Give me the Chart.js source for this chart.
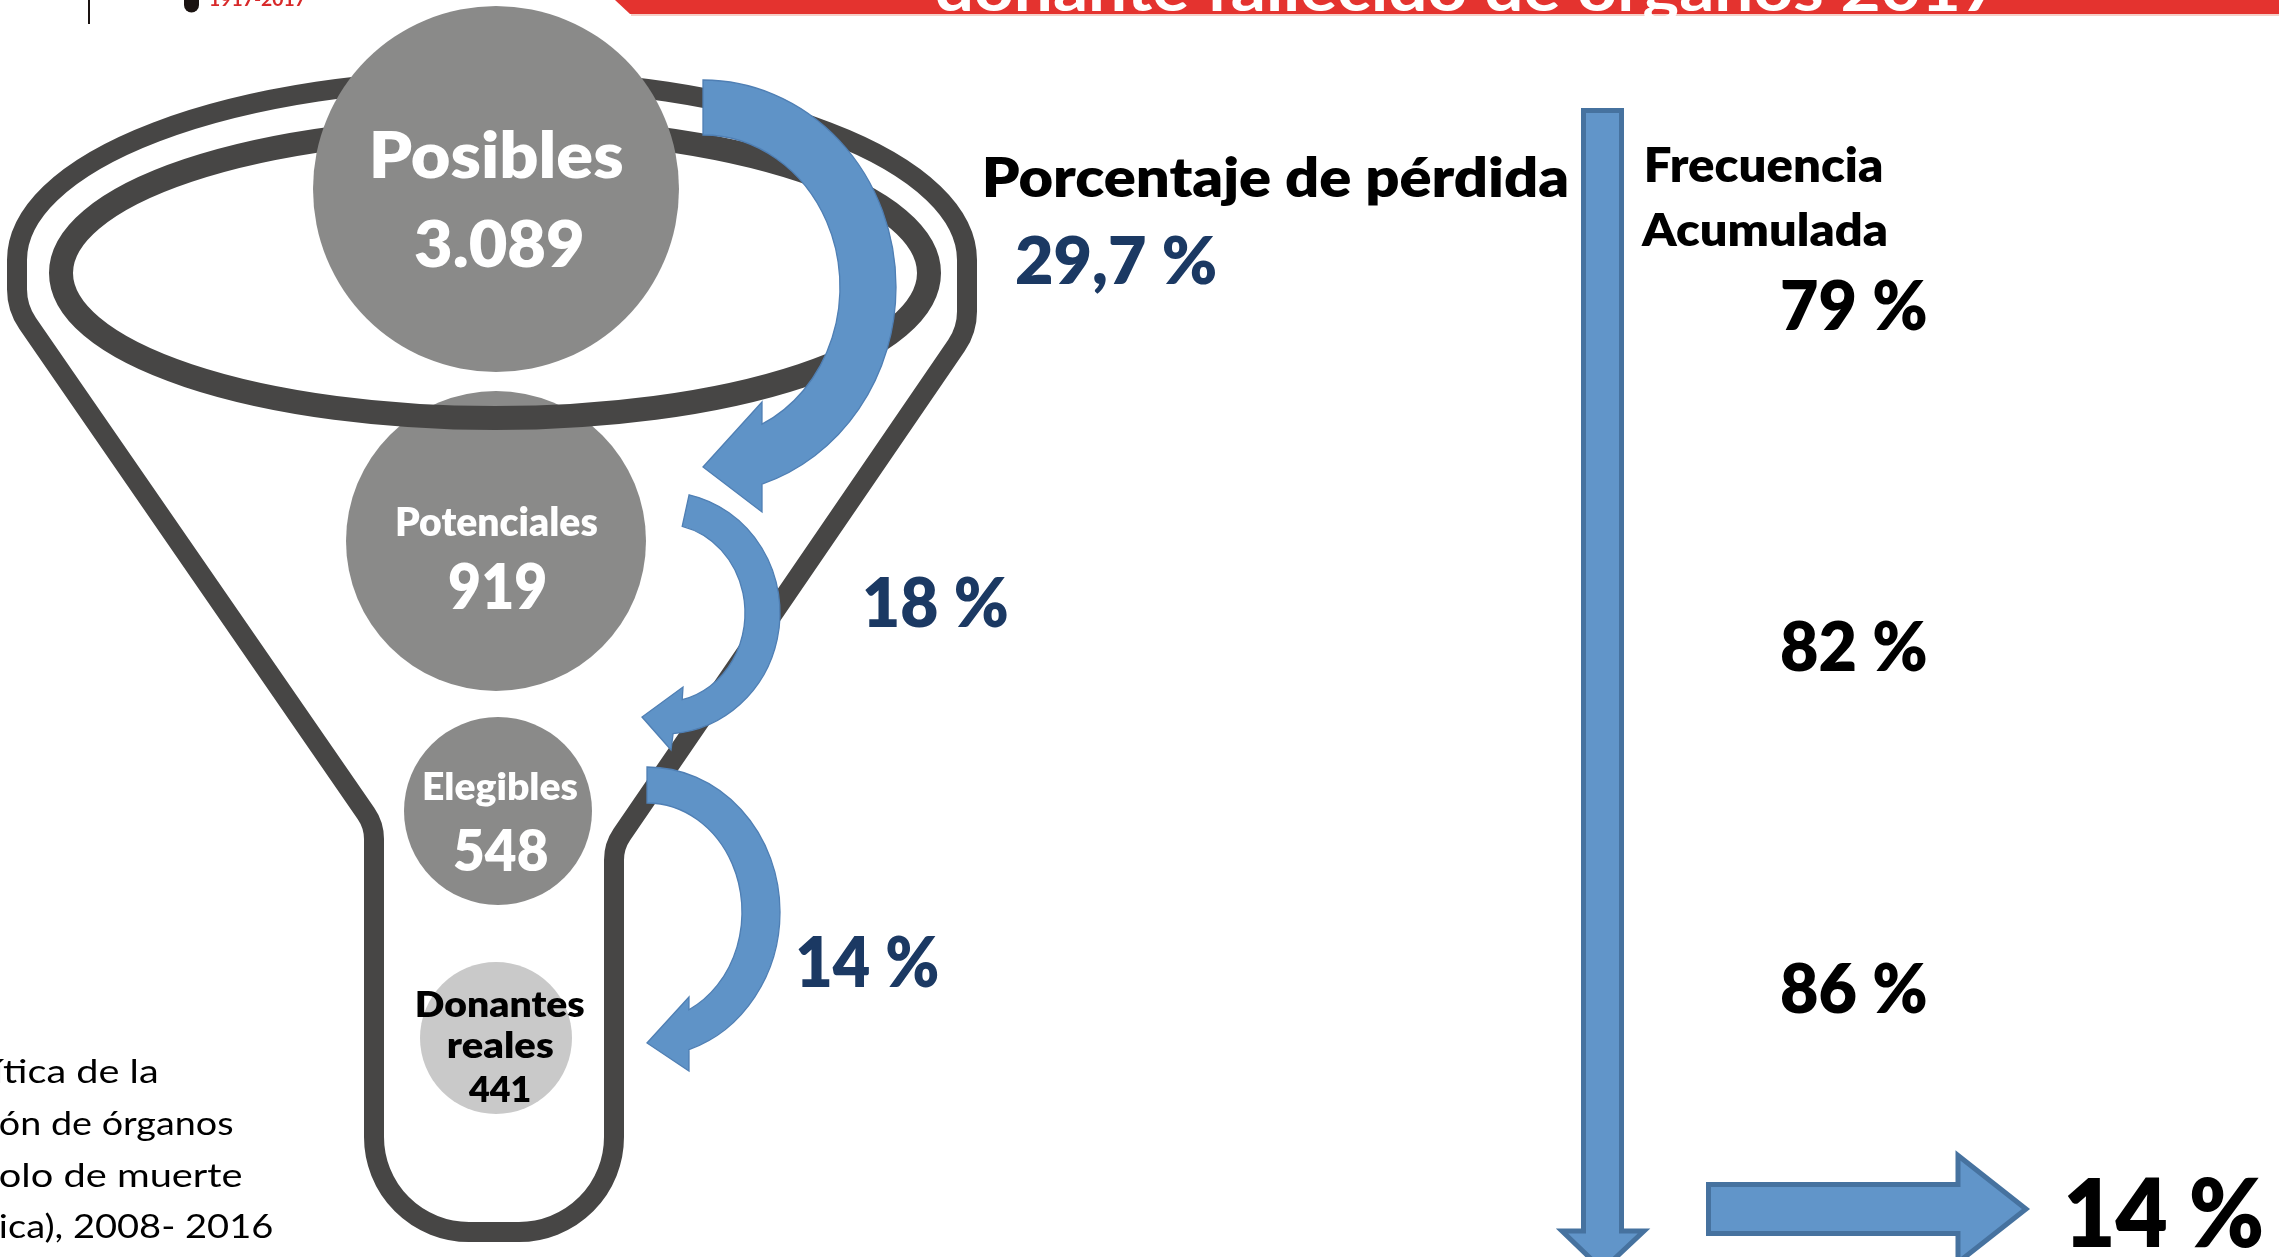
<!DOCTYPE html>
<html>
<head>
<meta charset="utf-8">
<script src="https://cdn.jsdelivr.net/npm/chart.js@4.4.1/dist/chart.umd.min.js"></script>
<style>
html,body{margin:0;padding:0;background:#fff;overflow:hidden;}
#wrap{position:relative;width:2279px;height:1257px;}
</style>
</head>
<body>
<div id="wrap"><canvas id="c"></canvas></div>
<script>
// ---------------- data ----------------
const stageNames = ['Posibles', 'Potenciales', 'Elegibles', 'Donantes reales'];
const stageCounts = [3089, 919, 548, 441];
const stageCountLabels = ['3.089', '919', '548', '441'];
const lossLabels = ['29,7 %', '18 %', '14 %'];
const cumulativeLabels = ['79 %', '82 %', '86 %'];
const finalLabel = '14 %';
const headerTitle = 'donante fallecido de órganos 2017';
const headerYears = '1917-2017';
const lossHeading = 'Porcentaje de pérdida';
const cumulativeHeading = ['Frecuencia', 'Acumulada'];
const sourceLines = ['ítica de la', 'ón de órganos', 'olo de muerte', 'ica), 2008- 2016'];

// ---------------- layout (positions / sizes / styles) ----------------
const W = 2279, H = 1257;
const circleX = [496, 496, 498, 496];
const circleY = [189, 541, 811, 1038];
const circleR = [183, 150, 94, 76];
const circleColor = ['#8a8a89', '#8a8a89', '#8a8a89', '#c9c9c9'];
const FUNNEL = '#474645';
const NAVY = '#1b3963';
const BLUE = '#5f93c7', BLUE_EDGE = '#4f7fb4';
const BLUE2 = '#6195c9', BLUE2_EDGE = '#46729f';
const HEAVY = 800;

let CH = null;
const X = v => CH.scales.x.getPixelForValue(v);
const Y = v => CH.scales.y.getPixelForValue(v);
const SX = v => X(v) - X(0);
const SY = v => Y(v) - Y(0);

function fitText(ctx, t, x0, x1, base, size, color, weight) {
  ctx.save();
  ctx.font = (weight || HEAVY) + ' ' + size + 'px Lato, "Open Sans", sans-serif';
  ctx.textAlign = 'left';
  ctx.textBaseline = 'alphabetic';
  const m = ctx.measureText(t);
  const ink = m.actualBoundingBoxLeft + m.actualBoundingBoxRight;
  const sx = (X(x1) - X(x0)) / ink;
  ctx.translate(X(x0), Y(base));
  ctx.scale(sx, 1);
  ctx.fillStyle = color;
  ctx.fillText(t, m.actualBoundingBoxLeft, 0);
  ctx.restore();
}

function drawFunnel(ctx) {
  ctx.save();
  ctx.strokeStyle = FUNNEL;
  ctx.lineJoin = 'round';
  ctx.lineWidth = 20;
  ctx.beginPath();
  ctx.ellipse(X(492), Y(260), SX(475), SY(181), 0, Math.PI, 2 * Math.PI);
  ctx.arcTo(X(967), Y(330), X(969 - 0.684 * 103), Y(430), 60);
  ctx.arcTo(X(614), Y(846), X(614), Y(1000), 45);
  ctx.lineTo(X(614), Y(1120));
  ctx.arcTo(X(614), Y(1232), X(494), Y(1232), 95);
  ctx.arcTo(X(374), Y(1232), X(374), Y(1100), 95);
  ctx.lineTo(X(374), Y(900));
  ctx.arcTo(X(374), Y(825), X(30 + 0.69 * 373), Y(700), 45);
  ctx.arcTo(X(17), Y(308), X(17), Y(260), 60);
  ctx.closePath();
  ctx.stroke();
  ctx.lineWidth = 24;
  ctx.beginPath();
  ctx.ellipse(X(495), Y(273), SX(434), SY(145), 0, 0, 2 * Math.PI);
  ctx.stroke();
  ctx.restore();
}

const curved = [
  {cx: 703, cy: 287, orx: 193, ory: 207, irx: 137, iry: 152, os: -90, oe: 72.2, is: -90, ie: 64.5,
   bo: [762, 512], tip: [703, 467], bi: [762, 402]},
  {cx: 664, cy: 613, orx: 116, ory: 121, irx: 81, iry: 89, os: -77.5, oe: 85.5, is: -77, ie: 77,
   bo: [671, 750], tip: [642, 717], bi: [683, 687]},
  {cx: 647, cy: 912, orx: 133, ory: 145, irx: 95, iry: 109, os: -90, oe: 71.6, is: -90, ie: 63.8,
   bo: [689, 1071], tip: [647, 1043], bi: [689, 997]}
];

function drawCurved(ctx, a) {
  const d = Math.PI / 180;
  ctx.beginPath();
  ctx.ellipse(X(a.cx), Y(a.cy), SX(a.orx), SY(a.ory), 0, a.os * d, a.oe * d, false);
  ctx.lineTo(X(a.bo[0]), Y(a.bo[1]));
  ctx.lineTo(X(a.tip[0]), Y(a.tip[1]));
  ctx.lineTo(X(a.bi[0]), Y(a.bi[1]));
  ctx.ellipse(X(a.cx), Y(a.cy), SX(a.irx), SY(a.iry), 0, a.ie * d, a.is * d, true);
  ctx.closePath();
  ctx.fillStyle = BLUE;
  ctx.fill();
  ctx.lineWidth = 1.3;
  ctx.strokeStyle = BLUE_EDGE;
  ctx.stroke();
}

function poly(ctx, pts) {
  ctx.beginPath();
  pts.forEach((p, i) => i ? ctx.lineTo(X(p[0]), Y(p[1])) : ctx.moveTo(X(p[0]), Y(p[1])));
  ctx.closePath();
  ctx.fillStyle = BLUE2;
  ctx.fill();
  ctx.lineWidth = 5;
  ctx.lineJoin = 'miter';
  ctx.strokeStyle = BLUE2_EDGE;
  ctx.stroke();
}

function drawOverlay(ctx) {
  ctx.save();
  ctx.fillStyle = '#e4332f';
  ctx.beginPath();
  ctx.moveTo(X(615), Y(0)); ctx.lineTo(X(W), Y(0)); ctx.lineTo(X(W), Y(14)); ctx.lineTo(X(630), Y(14));
  ctx.closePath(); ctx.fill();
  ctx.fillStyle = '#f5cfc8';
  ctx.fillRect(X(631), Y(14), X(W) - X(631), SY(2));
  fitText(ctx, headerTitle, 937, 1999, 11, 62, '#ffffff', 700);
  ctx.fillStyle = '#1a1311';
  ctx.beginPath();
  ctx.moveTo(X(184), Y(0)); ctx.lineTo(X(199), Y(0)); ctx.lineTo(X(199), Y(5));
  ctx.arc(X(191.5), Y(5), 7.5, 0, Math.PI); ctx.closePath(); ctx.fill();
  ctx.fillRect(X(88), Y(0), 2, SY(24));
  fitText(ctx, headerYears, 210, 306, 6, 19, '#d8292a', 700);

  curved.forEach(a => drawCurved(ctx, a));
  poly(ctx, [[1583.5, 110.5], [1621.5, 110.5], [1621.5, 1231], [1644, 1231], [1602.5, 1270],
             [1562, 1231], [1583.5, 1231]]);
  poly(ctx, [[1708.5, 1184.5], [1958, 1184.5], [1958, 1155.5], [2026, 1209], [1958, 1262.5],
             [1958, 1233.5], [1708.5, 1233.5]]);

  fitText(ctx, stageNames[0], 373, 622, 178, 64, '#ffffff');
  fitText(ctx, stageCountLabels[0], 415, 582, 267, 65, '#ffffff');
  fitText(ctx, stageNames[1], 397, 597, 536, 40, '#ffffff');
  fitText(ctx, stageCountLabels[1], 449, 545, 609, 63, '#ffffff');
  fitText(ctx, stageNames[2], 424, 577, 800, 38, '#ffffff');
  fitText(ctx, stageCountLabels[2], 454, 547, 871, 56, '#ffffff');
  const dn = stageNames[3].split(' ');
  fitText(ctx, dn[0], 417, 584, 1017, 35, '#000000');
  fitText(ctx, dn[1], 448, 553, 1058, 35, '#000000');
  fitText(ctx, stageCountLabels[3], 468, 530, 1102, 35, '#000000');

  fitText(ctx, lossHeading, 985, 1567, 197, 54, '#000000');
  fitText(ctx, lossLabels[0], 1016, 1215, 284, 66, NAVY);
  fitText(ctx, lossLabels[1], 865, 1007, 627, 68, NAVY);
  fitText(ctx, lossLabels[2], 798, 938, 987, 70, NAVY);

  fitText(ctx, cumulativeHeading[0], 1647, 1882, 182, 47, '#000000');
  fitText(ctx, cumulativeHeading[1], 1641, 1886, 246, 46, '#000000');
  fitText(ctx, cumulativeLabels[0], 1782, 1926, 330, 68, '#000000');
  fitText(ctx, cumulativeLabels[1], 1782, 1926, 671, 68, '#000000');
  fitText(ctx, cumulativeLabels[2], 1782, 1926, 1013, 68, '#000000');
  fitText(ctx, finalLabel, 2067, 2262, 1247, 95, '#000000');

  const srcEnd = [157, 232, 242, 272], srcBase = [1083, 1135, 1187, 1238], srcStart = [-4, 0, 0, 0];
  sourceLines.forEach((s, i) => fitText(ctx, s, srcStart[i], srcEnd[i], srcBase[i], 33, '#000000', 400));
  ctx.restore();
}

const decor = {
  id: 'decor',
  beforeDraw(c) {
    CH = c;
    const ctx = c.ctx;
    ctx.save(); ctx.fillStyle = '#ffffff'; ctx.fillRect(0, 0, c.width, c.height); ctx.restore();
  },
  beforeDatasetDraw(c, args) {
    CH = c;
    if (args.index === 0) drawFunnel(c.ctx);
  },
  afterDatasetsDraw(c) { CH = c; drawOverlay(c.ctx); }
};

function run() {
  const pt = i => ({x: circleX[i], y: circleY[i], r: circleR[i], v: stageCounts[i]});
  new Chart(document.getElementById('c'), {
    type: 'bubble',
    data: {
      datasets: [
        {label: stageNames[0], data: [pt(0)], backgroundColor: circleColor[0], borderWidth: 0,
         hoverRadius: 0, hoverBorderWidth: 0, clip: false},
        {label: 'resto', data: [pt(1), pt(2), pt(3)], backgroundColor: circleColor.slice(1), borderWidth: 0,
         hoverRadius: 0, hoverBorderWidth: 0, clip: false}
      ]
    },
    options: {
      responsive: true,
      maintainAspectRatio: false,
      animation: false,
      devicePixelRatio: 1,
      events: [],
      layout: {padding: 0, autoPadding: false},
      plugins: {legend: {display: false}, tooltip: {enabled: false}},
      scales: {
        x: {type: 'linear', min: 0, max: W, display: false},
        y: {type: 'linear', min: 0, max: H, reverse: true, display: false}
      }
    },
    plugins: [decor]
  });
}

const ready = (document.fonts && document.fonts.load)
  ? Promise.all([document.fonts.load('800 40px Lato'), document.fonts.load('700 40px Lato'),
                 document.fonts.load('400 30px Lato')]).catch(() => {})
  : Promise.resolve();
Promise.race([ready, new Promise(r => setTimeout(r, 1500))]).then(run);
</script>
</body>
</html>
